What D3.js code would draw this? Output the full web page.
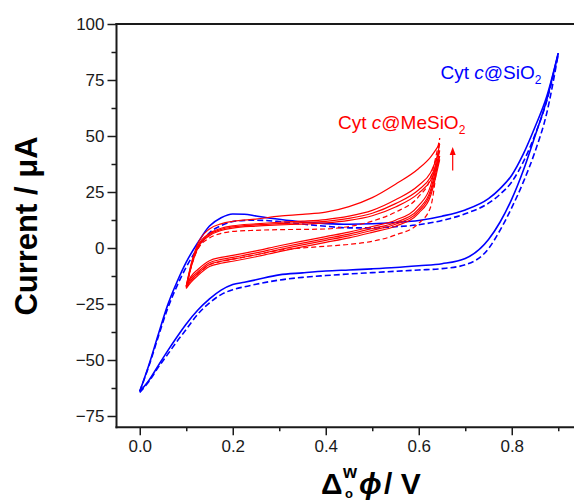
<!DOCTYPE html>
<html>
<head>
<meta charset="utf-8">
<script src="https://cdn.jsdelivr.net/npm/d3@7"></script>
<style>
  body { margin: 0; background: #fff; }
  svg { display: block; }
  text { font-family: "Liberation Sans", Arial, sans-serif; }
</style>
</head>
<body>
<svg id="chart" width="574" height="502"></svg>
<script>
// ---- Cyclic voltammograms: Cyt c@SiO2 (blue) and Cyt c@MeSiO2 (red) ----

// Cyt c@SiO2: potential grid (V) and currents (µA) on the forward and reverse sweeps
const bluePotential = [0, 0.02, 0.04, 0.06, 0.08, 0.1, 0.125, 0.15, 0.175, 0.2, 0.225, 0.25, 0.3, 0.35, 0.4, 0.45, 0.5, 0.55, 0.6, 0.65, 0.7, 0.75, 0.775, 0.8, 0.825, 0.85, 0.875, 0.9];
const blueSolidForward = [-64, -52, -38.5, -25.5, -15.2, -6.3, 2.4, 9.8, 13.5, 15.2, 15.1, 14.3, 12.8, 11.6, 10.9, 10.6, 10.8, 11.4, 12.3, 14.2, 17, 22, 26.5, 32.5, 42, 54, 67.5, 87];
const blueSolidReverse = [-64, -59, -52.4, -45.9, -39.7, -33.9, -27.7, -22.7, -18.8, -16.3, -15.3, -14.2, -12, -11.1, -10.3, -9.8, -9.3, -8.7, -7.9, -7, -4.7, 3.8, 11.6, 21.8, 34.7, 50, 66, 87];
const blueDashedForward = [-64, -52.5, -39.5, -27, -17, -8.5, 0, 6.8, 10, 11.8, 12.3, 12.4, 11.8, 10.7, 9.7, 9, 9, 9.5, 10.4, 12.3, 15.3, 20, 24, 29.5, 38.5, 50.5, 65.5, 86.5];
const blueDashedReverse = [-64.5, -59.5, -53.2, -47.5, -41.7, -36.3, -29.5, -24.5, -20.8, -18.6, -17.3, -16.2, -14.3, -13.1, -12.3, -11.6, -11, -10.4, -9.8, -9.2, -7.5, -0.3, 8, 18, 29.5, 43, 60, 86.5];

// Cyt c@MeSiO2: successive cycles between 0.1 V and 0.645 V
const redPotential = [0.1, 0.11, 0.125, 0.15, 0.175, 0.2, 0.25, 0.3, 0.35, 0.4, 0.45, 0.5, 0.55, 0.6, 0.625, 0.645];
const redCycle1Forward = [-17, -7.5, 2, 8.5, 10.8, 11.9, 12.9, 14.2, 15, 16, 18.5, 22.5, 28.5, 35.5, 40.5, 46.5];
const redCycle1Reverse = [-17, -12.8, -9.6, -5.7, -4.2, -3.3, -1.3, 1, 3.1, 5.1, 7.1, 9.6, 12.4, 19, 27.5, 46.5];
const redCycle2Forward = [-17, -8, 1, 6.5, 8.8, 9.9, 10.8, 11.5, 12, 12.7, 14.2, 16.8, 21.5, 28, 33.5, 43.5];
const redCycle2Reverse = [-17, -13.6, -10.6, -6.6, -5.1, -4.2, -2.2, 0.1, 2.2, 4.2, 6.2, 8.7, 11.4, 17.5, 25.6, 43.5];
const redCycle3Forward = [-17.5, -8.5, 0.5, 6, 8.3, 9.4, 10.3, 10.9, 11.3, 11.9, 13.2, 15.5, 19.8, 26, 31.5, 41];
const redCycle3Reverse = [-17.5, -14.4, -11.4, -7.4, -5.9, -5, -3, -0.7, 1.4, 3.4, 5.4, 7.9, 10.6, 16.5, 24.4, 41];
const redCycle4Forward = [-18, -9, 0, 5.5, 7.8, 8.9, 9.8, 10.3, 10.7, 11.2, 12.3, 14.4, 18.3, 24.5, 30, 39.5];
const redCycle4Reverse = [-18, -15.3, -12.3, -8.3, -6.8, -5.9, -3.9, -1.6, 0.5, 2.5, 4.5, 7, 9.7, 15.6, 23, 39.5];
const redDashedForward = [-17.5, -9, -0.5, 4.5, 6.5, 7.4, 7.9, 8.2, 8.3, 8.5, 9.6, 12, 16, 23, 31, 49];
const redDashedReverse = [-17.5, -14.5, -11.5, -7.5, -6, -5, -3, -1, 0, 0.8, 1.6, 3, 5.8, 11, 18, 49];

// Arrow showing the growth of the current over cycling (V, µA)
const growthArrowPotential = [0.673];
const growthArrowCurrent = [34.6, 45.1];

// Axis ticks
const xMajorTicks = [0, 0.2, 0.4, 0.6, 0.8];
const xMinorTicks = [0.1, 0.3, 0.5, 0.7, 0.9];
const yMajorTicks = [-75, -50, -25, 0, 25, 50, 75, 100];
const yMinorTicks = [-62.5, -37.5, -12.5, 12.5, 37.5, 62.5, 87.5];

// Series labels
const blueLabel = ["Cyt ", "c", "@SiO", "2"];
const redLabel = ["Cyt ", "c", "@MeSiO", "2"];

// ---- drawing ----
const BLUE = "#0000ff";
const RED = "#ff0000";
const INK = "#1a1a1a";

const svg = d3.select("#chart");
const W = 574, H = 502;
const plotLeft = 116.5, plotTop = 24, plotBottom = 427.2;

const x = d3.scaleLinear().domain([-0.05, 0.95]).range([plotLeft, 581.5]);
const y = d3.scaleLinear().domain([-80, 100]).range([plotBottom, plotTop]);

svg.append("defs").append("clipPath").attr("id", "plot-clip")
  .append("rect").attr("x", plotLeft).attr("y", plotTop)
  .attr("width", W - plotLeft).attr("height", plotBottom - plotTop);

const line = d3.line()
  .x(d => x(d[0])).y(d => y(d[1]))
  .curve(d3.curveMonotoneX);

const plot = svg.append("g").attr("clip-path", "url(#plot-clip)");

function branch(potential, current, color, width, dash) {
  plot.append("path")
    .datum(d3.zip(potential, current))
    .attr("d", line)
    .attr("fill", "none")
    .attr("stroke", color)
    .attr("stroke-width", width)
    .attr("stroke-linejoin", "round")
    .attr("stroke-dasharray", dash || null);
}

// Cyt c@SiO2
branch(bluePotential, blueDashedForward, BLUE, 1.6, "6,3");
branch(bluePotential, blueDashedReverse, BLUE, 1.6, "6,3");
branch(bluePotential, blueSolidForward, BLUE, 1.6);
branch(bluePotential, blueSolidReverse, BLUE, 1.6);

// Cyt c@MeSiO2
branch(redPotential, redDashedForward, RED, 1.2, "5,3");
branch(redPotential, redDashedReverse, RED, 1.2, "5,3");
[[redCycle4Forward, redCycle4Reverse],
 [redCycle3Forward, redCycle3Reverse],
 [redCycle2Forward, redCycle2Reverse],
 [redCycle1Forward, redCycle1Reverse]].forEach(([f, r]) => {
  branch(redPotential, f, RED, 1.2);
  branch(redPotential, r, RED, 1.2);
});

// growth arrow
{
  const ax = x(growthArrowPotential[0]);
  const y0 = y(growthArrowCurrent[0]);
  const y1 = y(growthArrowCurrent[1]);
  svg.append("line")
    .attr("x1", ax).attr("x2", ax)
    .attr("y1", y0).attr("y2", y1 + 6)
    .attr("stroke", RED).attr("stroke-width", 1.2);
  svg.append("path")
    .attr("d", `M${ax},${y1} L${ax - 3},${y1 + 8} L${ax + 3},${y1 + 8} Z`)
    .attr("fill", RED);
}

// ---- axes ----
svg.append("g").attr("transform", `translate(${plotLeft},0)`)
  .call(d3.axisLeft(y).tickValues(yMajorTicks).tickSize(9).tickPadding(3)
    .tickFormat(d3.format("d")));
svg.append("g").attr("transform", `translate(${plotLeft},0)`)
  .call(d3.axisLeft(y).tickValues(yMinorTicks).tickSize(5).tickFormat(""));

svg.append("g").attr("transform", `translate(0,${plotBottom})`)
  .call(d3.axisBottom(x).tickValues(xMajorTicks).tickSize(8).tickPadding(5)
    .tickFormat(d3.format(".1f")));
svg.append("g").attr("transform", `translate(0,${plotBottom})`)
  .call(d3.axisBottom(x).tickValues(xMinorTicks).tickSize(4).tickFormat(""));

svg.selectAll(".domain").remove();
svg.selectAll(".tick line").attr("stroke", INK).attr("stroke-width", 1.5);
svg.selectAll(".tick text")
  .attr("fill", INK)
  .style("font-size", "17px")
  .style("font-family", '"Liberation Sans", Arial, sans-serif');

// frame: left, bottom and top spines
const spine = (x1, y1, x2, y2) => svg.append("line")
  .attr("x1", x1).attr("y1", y1).attr("x2", x2).attr("y2", y2)
  .attr("stroke", INK).attr("stroke-width", 2).attr("stroke-linecap", "square");
spine(plotLeft, plotTop, plotLeft, plotBottom);
spine(plotLeft, plotBottom, W, plotBottom);
spine(plotLeft, plotTop, W, plotTop);

// axis titles
svg.append("text")
  .attr("transform", "translate(37,226) rotate(-90)")
  .attr("text-anchor", "middle")
  .attr("font-weight", "bold")
  .attr("font-size", 31)
  .attr("fill", "#000")
  .text("Current / μA");

const xt = svg.append("g").attr("fill", "#000").attr("font-weight", "bold");
xt.append("text").attr("x", 321).attr("y", 494).attr("font-size", 30).text("Δ");
xt.append("text").attr("x", 343).attr("y", 478).attr("font-size", 18).text("w");
xt.append("text").attr("x", 345).attr("y", 498).attr("font-size", 13).text("o");
xt.append("text").attr("x", 359).attr("y", 494).attr("font-size", 30)
  .attr("font-style", "italic").text("ϕ");
xt.append("text").attr("x", 384).attr("y", 494).attr("font-size", 30).text("/ V");

// series labels
function seriesLabel(parts, color, lx, ly) {
  const t = svg.append("text").attr("x", lx).attr("y", ly)
    .attr("font-size", 19).attr("fill", color);
  t.append("tspan").text(parts[0]);
  t.append("tspan").attr("font-style", "italic").text(parts[1]);
  t.append("tspan").text(parts[2]);
  t.append("tspan").attr("font-size", 12).attr("dy", 5).text(parts[3]);
}
seriesLabel(blueLabel, BLUE, 440.5, 79);
seriesLabel(redLabel, RED, 338, 128.5);
</script>
</body>
</html>
